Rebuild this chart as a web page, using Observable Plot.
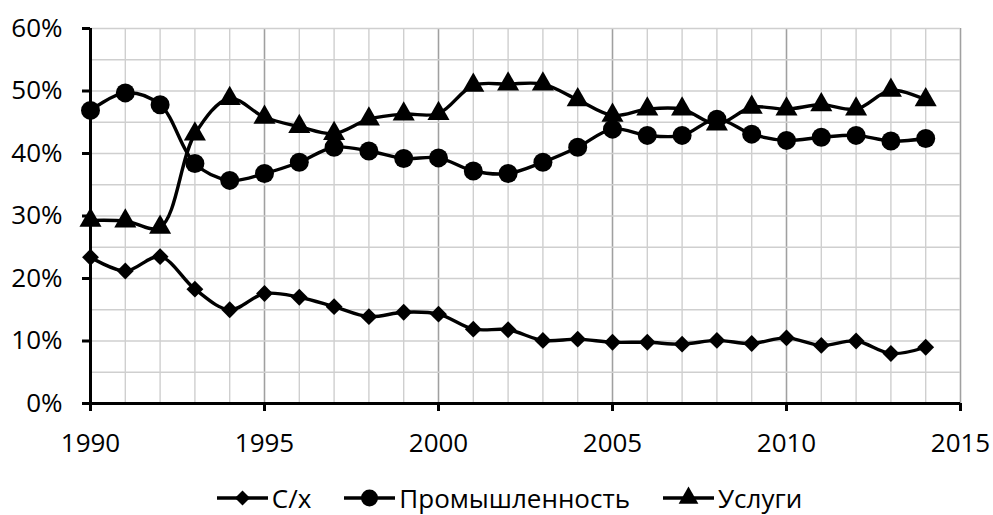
<!DOCTYPE html>
<html>
<head>
<meta charset="utf-8">
<script src="https://cdn.jsdelivr.net/npm/d3@7"></script>
<script src="https://cdn.jsdelivr.net/npm/@observablehq/plot@0.6"></script>
<style>
  html, body { margin: 0; padding: 0; background: #fff; overflow: hidden; }
  #chart { width: 993px; }
  .legend { display: flex; justify-content: center; align-items: flex-start; font-family: "Open Sans", sans-serif; font-size: 26px; line-height: 26px; color: #000; height: 55px; padding-left: 26px; padding-top: 25px; box-sizing: border-box; }
  .legend .item { display: flex; align-items: center; margin: 0 16.5px; }
  .legend svg { margin-right: 4px; }
</style>
</head>
<body>
<div id="chart"></div>
<script>
const years = [1990,1991,1992,1993,1994,1995,1996,1997,1998,1999,2000,2001,2002,2003,2004,2005,2006,2007,2008,2009,2010,2011,2012,2013,2014];
const agri = [23.4,21.2,23.5,18.3,15.0,17.6,17.0,15.5,13.9,14.6,14.3,11.9,11.8,10.1,10.3,9.8,9.8,9.5,10.1,9.6,10.5,9.3,10.0,8.0,9.0];
const industry = [46.9,49.7,47.8,38.4,35.7,36.8,38.6,41.0,40.4,39.2,39.3,37.2,36.8,38.6,41.0,43.9,42.9,42.9,45.5,43.1,42.1,42.6,42.9,42.0,42.4];
const services = [29.3,29.2,28.2,43.1,48.8,45.8,44.3,43.2,45.5,46.3,46.4,50.9,51.1,51.1,48.6,46.1,47.1,47.1,44.7,47.4,47.1,47.8,47.1,50.1,48.6];
const seriesNames = ["С/х", "Промышленность", "Услуги"];
const seriesSymbols = ["diamond2", "circle", "triangle"];
const seriesR = [7.6, 9.5, 8.2];
const yTicks = [0,10,20,30,40,50,60];
const xTicks = [1990,1995,2000,2005,2010,2015];

const seriesValues = [agri, industry, services];
const data = [];
seriesNames.forEach((name, i) => {
  years.forEach((yr, j) => data.push({series: name, year: yr, value: seriesValues[i][j]}));
});

const allYears = d3.range(1990, 2016);
const minorY = d3.range(5, 61, 5);

const font = "Open Sans, sans-serif";
const plot = Plot.plot({
  width: 993,
  height: 460,
  marginTop: 28,
  marginBottom: 57,
  marginLeft: 90,
  marginRight: 33,
  style: {fontFamily: font, fontSize: "26px", color: "#000", background: "#fff"},
  x: {domain: [1990, 2015]},
  y: {domain: [0, 60]},
  marks: [
    Plot.ruleX(allYears, {stroke: "#cfcfcf", strokeWidth: 1.4}),
    Plot.ruleX(xTicks.slice(1), {stroke: "#a0a0a0", strokeWidth: 1.4}),
    Plot.ruleY(minorY, {stroke: "#cfcfcf", strokeWidth: 1.4}),
    Plot.axisY({ticks: yTicks, tickFormat: d => d + "%", tickSize: 8, tickPadding: 20, strokeWidth: 3, label: null, fontSize: 26}),
    Plot.axisX({ticks: xTicks, tickFormat: d => String(d), tickSize: 8, tickPadding: 22, strokeWidth: 3, label: null, fontSize: 26}),
    Plot.ruleX([1990], {stroke: "#000", strokeWidth: 3}),
    Plot.ruleY([0], {stroke: "#000", strokeWidth: 3}),
    Plot.line(data, {x: "year", y: "value", z: "series", stroke: "#000", strokeWidth: 3.4, curve: "catmull-rom"}),
    ...seriesNames.map((name, i) => Plot.dot(data.filter(d => d.series === name), {x: "year", y: "value", symbol: () => seriesSymbols[i], r: seriesR[i], fill: "#000", stroke: "none"}))
  ]
});
document.getElementById("chart").appendChild(plot);

// Legend
const legend = document.createElement("div");
legend.className = "legend";
const symbolMap = {diamond2: d3.symbolDiamond2, circle: d3.symbolCircle, triangle: d3.symbolTriangle};
seriesNames.forEach((name, i) => {
  const item = document.createElement("div");
  item.className = "item";
  const w = 51, h = 26;
  const sym = d3.symbol(symbolMap[seriesSymbols[i]], Math.PI * seriesR[i] * seriesR[i] * 0.8)();
  item.innerHTML = `<svg width="${w}" height="${h}"><line x1="0" x2="${w}" y1="${h/2}" y2="${h/2}" stroke="#000" stroke-width="3.4"/><path d="${sym}" transform="translate(${w/2},${h/2})" fill="#000"/></svg><span>${name}</span>`;
  legend.appendChild(item);
});
document.getElementById("chart").appendChild(legend);
</script>
</body>
</html>
